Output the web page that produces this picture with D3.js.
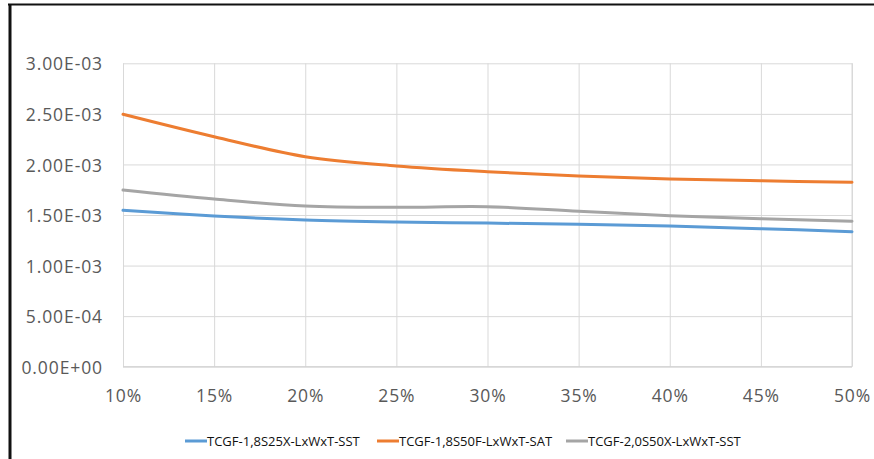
<!DOCTYPE html>
<html>
<head>
<meta charset="utf-8">
<script src="https://cdn.jsdelivr.net/npm/d3@7"></script>
<style>
  body { margin: 0; background: #fff; }
  svg { display: block; }
</style>
</head>
<body>
<div id="chart"></div>
<script>
let svgWidth = 874;
let svgHeight = 459;

// data
let categories = [0.10, 0.15, 0.20, 0.25, 0.30, 0.35, 0.40, 0.45, 0.50];
let seriesNames = ["TCGF-1,8S25X-LxWxT-SST", "TCGF-1,8S50F-LxWxT-SAT", "TCGF-2,0S50X-LxWxT-SST"];
let blueValues = [1.546e-3, 1.490e-3, 1.451e-3, 1.431e-3, 1.420e-3, 1.408e-3, 1.391e-3, 1.365e-3, 1.335e-3];
let orangeValues = [2.496e-3, 2.274e-3, 2.077e-3, 1.985e-3, 1.928e-3, 1.886e-3, 1.856e-3, 1.839e-3, 1.823e-3];
let grayValues = [1.747e-3, 1.658e-3, 1.589e-3, 1.576e-3, 1.582e-3, 1.537e-3, 1.493e-3, 1.463e-3, 1.438e-3];
let yTicks = [0, 5e-4, 1e-3, 1.5e-3, 2e-3, 2.5e-3, 3e-3];
let yTickLabels = ["0.00E+00", "5.00E-04", "1.00E-03", "1.50E-03", "2.00E-03", "2.50E-03", "3.00E-03"];
let xTickLabels = ["10%", "15%", "20%", "25%", "30%", "35%", "40%", "45%", "50%"];
let colors = ["#5B9BD5", "#ED7D31", "#A5A5A5"];

let margin = { top: 63.3, right: 22, bottom: 92.3, left: 123 };
let width = svgWidth - margin.left - margin.right;
let height = svgHeight - margin.top - margin.bottom;

let svg = d3.select("#chart")
  .append("svg")
  .attr("width", svgWidth)
  .attr("height", svgHeight);

// outer frame (top and left edges visible)
svg.append("line")
  .attr("x1", 8).attr("x2", svgWidth).attr("y1", 4.5).attr("y2", 4.5)
  .attr("stroke", "#111").attr("stroke-width", 2);
svg.append("line")
  .attr("x1", 10).attr("x2", 10).attr("y1", 4).attr("y2", svgHeight)
  .attr("stroke", "#111").attr("stroke-width", 3);

let chartGroup = svg.append("g")
  .attr("transform", `translate(${margin.left}, ${margin.top})`);

let xScale = d3.scaleLinear().domain([0.10, 0.50]).range([0, width]);
let yScale = d3.scaleLinear().domain([0, 3e-3]).range([height, 0]);

// gridlines
let xAxis = d3.axisBottom(xScale)
  .tickValues(categories)
  .tickSize(-height)
  .tickFormat((d, i) => xTickLabels[i]);

let yAxis = d3.axisLeft(yScale)
  .tickValues(yTicks)
  .tickSize(-width)
  .tickFormat((d, i) => yTickLabels[i]);

let gx = chartGroup.append("g")
  .attr("transform", `translate(0, ${height})`)
  .call(xAxis);

let gy = chartGroup.append("g").call(yAxis);

[gx, gy].forEach(g => {
  g.select(".domain").remove();
  g.selectAll(".tick line").attr("stroke", "#D9D9D9").attr("stroke-width", 1);
  g.selectAll(".tick text")
    .attr("fill", "#595959")
    .attr("font-family", "Open Sans, sans-serif")
    .attr("font-size", "17.5px")
    .attr("letter-spacing", "0.9px");
});
gx.selectAll(".tick text").attr("dy", "0").attr("y", 35);
gy.selectAll(".tick text").attr("x", -20).attr("dy", "0.38em");

// right and bottom borders of plot area
chartGroup.append("line")
  .attr("x1", width).attr("x2", width).attr("y1", 0).attr("y2", height)
  .attr("stroke", "#D9D9D9");
chartGroup.append("line")
  .attr("x1", 0).attr("x2", width).attr("y1", height).attr("y2", height)
  .attr("stroke", "#D0D0D0");

let line = d3.line()
  .x((d, i) => xScale(categories[i]))
  .y(d => yScale(d))
  .curve(d3.curveCatmullRom.alpha(0.5));

let allSeries = [blueValues, orangeValues, grayValues];

chartGroup.selectAll(".series")
  .data(allSeries)
  .enter()
  .append("path")
  .attr("class", "series")
  .attr("d", d => line(d))
  .attr("fill", "none")
  .attr("stroke", (d, i) => colors[i])
  .attr("stroke-width", 3)
  .attr("stroke-linecap", "round");

// legend
let legendX = [185, 377, 566];
let legend = svg.append("g").attr("transform", "translate(0, 441)");

let items = legend.selectAll(".item")
  .data(seriesNames)
  .enter()
  .append("g")
  .attr("class", "item")
  .attr("transform", (d, i) => `translate(${legendX[i]}, 0)`);

items.append("line")
  .attr("x1", 0).attr("x2", 22).attr("y1", 0).attr("y2", 0)
  .attr("stroke", (d, i) => colors[i])
  .attr("stroke-width", 3);

items.append("text")
  .attr("x", 22)
  .attr("dy", "0.35em")
  .attr("font-family", "Open Sans, sans-serif")
  .attr("font-size", "13px")
  .attr("fill", "#111")
  .text(d => d);
</script>
</body>
</html>
